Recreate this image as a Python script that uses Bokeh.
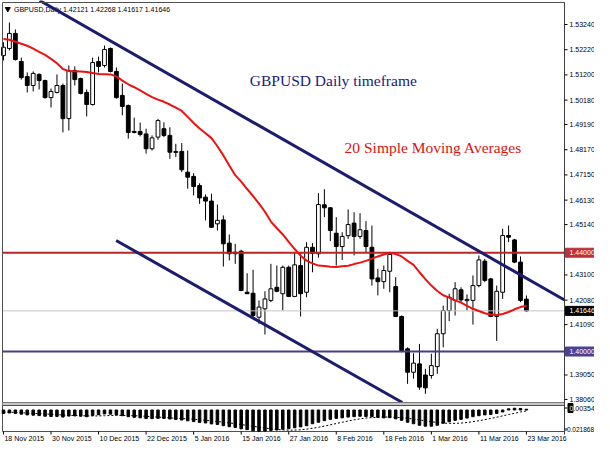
from bokeh.plotting import figure
from bokeh.models import Range1d, ColumnDataSource
from bokeh.core.properties import value
from bokeh.embed import file_html
from bokeh.resources import INLINE

# ---------------- data ----------------
date_labels = ["18 Nov 2015", "30 Nov 2015", "10 Dec 2015", "22 Dec 2015", "5 Jan 2016",
               "15 Jan 2016", "27 Jan 2016", "8 Feb 2016", "18 Feb 2016", "1 Mar 2016",
               "11 Mar 2016", "23 Mar 2016"]
date_ticks = [0, 8, 16, 24, 32, 40, 48, 56, 64, 72, 80, 88]

opens = [1.5198, 1.5227, 1.5288, 1.5174, 1.5113, 1.5077, 1.5122, 1.5097, 1.5028, 1.5049,
         1.5077, 1.4943, 1.5138, 1.5105, 1.5049, 1.5000, 1.5174, 1.5158, 1.5227, 1.5134,
         1.5037, 1.4996, 1.4891, 1.4891, 1.4881, 1.4821, 1.4868, 1.4902, 1.4875, 1.4806,
         1.4810, 1.4726, 1.4709, 1.4672, 1.4625, 1.4609, 1.4517, 1.4533, 1.4439, 1.4396,
         1.4406, 1.4240, 1.4236, 1.4139, 1.4173, 1.4207, 1.4260, 1.4234, 1.4341, 1.4223,
         1.4348, 1.4240, 1.4422, 1.4396, 1.4594, 1.4582, 1.4479, 1.4425, 1.4469, 1.4520,
         1.4466, 1.4490, 1.4422, 1.4298, 1.4283, 1.4325, 1.4263, 1.4142, 1.4011, 1.3916,
         1.3950, 1.3905, 1.3903, 1.3939, 1.4072, 1.4166, 1.4207, 1.4250, 1.4206, 1.4207,
         1.4267, 1.4366, 1.4294, 1.4142, 1.4240, 1.4470, 1.4452, 1.4362, 1.42121]
highs = [1.5252, 1.5332, 1.5304, 1.5190, 1.5130, 1.5134, 1.5126, 1.5101, 1.5065, 1.5122,
         1.5085, 1.5158, 1.5154, 1.5109, 1.5061, 1.5190, 1.5194, 1.5239, 1.5231, 1.5150,
         1.5085, 1.5000, 1.4947, 1.4927, 1.4902, 1.4875, 1.4942, 1.4928, 1.4908, 1.4841,
         1.4844, 1.4814, 1.4722, 1.4681, 1.4636, 1.4639, 1.4595, 1.4551, 1.4474, 1.4436,
         1.4412, 1.4317, 1.4331, 1.4207, 1.4244, 1.4355, 1.4348, 1.4348, 1.4348, 1.4402,
         1.4402, 1.4443, 1.4439, 1.4641, 1.4657, 1.4584, 1.4544, 1.4483, 1.4575, 1.4564,
         1.4560, 1.4528, 1.4510, 1.4335, 1.4348, 1.4402, 1.4301, 1.4146, 1.4017, 1.3993,
         1.4031, 1.3930, 1.3991, 1.4092, 1.4186, 1.4234, 1.4281, 1.4260, 1.4231, 1.4308,
         1.4389, 1.4375, 1.4298, 1.4267, 1.4497, 1.4510, 1.4456, 1.4385, 1.42268]
lows = [1.5178, 1.5219, 1.5178, 1.5101, 1.5049, 1.5053, 1.5061, 1.5024, 1.4988, 1.5045,
        1.4887, 1.4895, 1.5077, 1.5041, 1.4952, 1.4996, 1.5130, 1.5150, 1.5130, 1.5024,
        1.4956, 1.4862, 1.4883, 1.4871, 1.4801, 1.4814, 1.4857, 1.4868, 1.4780, 1.4787,
        1.4726, 1.4659, 1.4632, 1.4598, 1.4531, 1.4501, 1.4490, 1.4344, 1.4369, 1.4355,
        1.4244, 1.4234, 1.4139, 1.4112, 1.4069, 1.4200, 1.4240, 1.4166, 1.4220, 1.4220,
        1.4142, 1.4220, 1.4321, 1.4380, 1.4544, 1.4447, 1.4348, 1.4371, 1.4456, 1.4389,
        1.4456, 1.4402, 1.4267, 1.4227, 1.4254, 1.4240, 1.4139, 1.3997, 1.3869, 1.3890,
        1.3845, 1.3829, 1.3890, 1.3910, 1.4017, 1.4123, 1.4146, 1.4200, 1.4166, 1.4109,
        1.4260, 1.4281, 1.4139, 1.4043, 1.4213, 1.4443, 1.4358, 1.4200, 1.41617]
closes = [1.5232, 1.5288, 1.5182, 1.5109, 1.5077, 1.5126, 1.5097, 1.5028, 1.5053, 1.5077,
          1.4943, 1.5138, 1.5101, 1.5045, 1.5000, 1.5170, 1.5154, 1.5223, 1.5134, 1.5028,
          1.4992, 1.4887, 1.4887, 1.4879, 1.4821, 1.4865, 1.4935, 1.4875, 1.4807, 1.4810,
          1.4736, 1.4706, 1.4668, 1.4622, 1.4609, 1.4503, 1.4531, 1.4436, 1.4396, 1.4402,
          1.4247, 1.4234, 1.4146, 1.4180, 1.4213, 1.4254, 1.4244, 1.4341, 1.4223, 1.4351,
          1.4234, 1.4422, 1.4398, 1.4595, 1.4582, 1.4490, 1.4425, 1.4466, 1.4514, 1.4466,
          1.4493, 1.4425, 1.4294, 1.4283, 1.4328, 1.4393, 1.4142, 1.4004, 1.3916, 1.3953,
          1.3856, 1.3853, 1.3943, 1.4072, 1.4166, 1.4220, 1.4254, 1.4209, 1.4211, 1.4267,
          1.4371, 1.4288, 1.4142, 1.4244, 1.4470, 1.4463, 1.4362, 1.4207, 1.41646]

ma20 = [1.5265, 1.5262, 1.5254, 1.5246, 1.5238, 1.5226, 1.5213, 1.5201, 1.5185, 1.5167,
        1.5144, 1.5135, 1.5135, 1.5134, 1.5132, 1.5128, 1.5124, 1.5123, 1.5122, 1.5114,
        1.5097, 1.5082, 1.5070, 1.5057, 1.5043, 1.5030, 1.5020, 1.5011, 1.5000, 1.4987,
        1.4974, 1.4950, 1.4925, 1.4903, 1.4884, 1.4864, 1.4831, 1.4794, 1.4753, 1.4714,
        1.4688, 1.4658, 1.4629, 1.4599, 1.4566, 1.4526, 1.4499, 1.4474, 1.4444, 1.4415,
        1.4388, 1.4368, 1.4357, 1.4348, 1.4346, 1.4343, 1.4342, 1.4345, 1.4347, 1.4354,
        1.4360, 1.4367, 1.4376, 1.4385, 1.4393, 1.4400, 1.4395, 1.4385, 1.4367, 1.4351,
        1.4321, 1.4293, 1.4267, 1.4245, 1.4228, 1.4218, 1.4207, 1.4198, 1.4185, 1.4173,
        1.4164, 1.4155, 1.4150, 1.4148, 1.4152, 1.4160, 1.4171, 1.4180, 1.4185]

macd_main = [-0.0035, -0.0030, -0.0035, -0.0042, -0.0050, -0.0053, -0.0057, -0.0063, -0.0066, -0.0065,
             -0.0072, -0.0062, -0.0060, -0.0063, -0.0068, -0.0055, -0.0048, -0.0040, -0.0042, -0.0050,
             -0.0058, -0.0068, -0.0075, -0.0080, -0.0087, -0.0088, -0.0085, -0.0086, -0.0092, -0.0096,
             -0.0102, -0.0110, -0.0118, -0.0126, -0.0132, -0.0142, -0.0147, -0.0160, -0.0170, -0.0178,
             -0.0192, -0.0200, -0.0212, -0.0216, -0.0214, -0.0208, -0.0204, -0.0196, -0.0190, -0.0181,
             -0.0172, -0.0160, -0.0140, -0.0125, -0.0108, -0.0095, -0.0085, -0.0080, -0.0072, -0.0068,
             -0.0064, -0.0066, -0.0068, -0.0075, -0.0080, -0.0078, -0.0090, -0.0105, -0.0125, -0.0140,
             -0.0155, -0.0165, -0.0165, -0.0155, -0.0135, -0.0120, -0.0105, -0.0095, -0.0082, -0.0068,
             -0.0058, -0.0050, -0.0045, -0.0035, -0.0020, 0.0012, 0.0018, 0.0016, 0.0008]
macd_signal = [-0.0020, -0.0022, -0.0025, -0.0028, -0.0031, -0.0034, -0.0037, -0.0040, -0.0043, -0.0047,
               -0.0051, -0.0054, -0.0056, -0.0058, -0.0060, -0.0061, -0.0060, -0.0058, -0.0056, -0.0055,
               -0.0055, -0.0056, -0.0058, -0.0061, -0.0064, -0.0068, -0.0072, -0.0076, -0.0080, -0.0083,
               -0.0087, -0.0090, -0.0094, -0.0099, -0.0105, -0.0111, -0.0117, -0.0124, -0.0131, -0.0139,
               -0.0148, -0.0157, -0.0166, -0.0175, -0.0184, -0.0192, -0.0198, -0.0203, -0.0205, -0.0205,
               -0.0201, -0.0195, -0.0186, -0.0176, -0.0164, -0.0151, -0.0138, -0.0125, -0.0112, -0.0100,
               -0.0090, -0.0082, -0.0077, -0.0074, -0.0072, -0.0072, -0.0074, -0.0078, -0.0084, -0.0092,
               -0.0101, -0.0110, -0.0119, -0.0127, -0.0133, -0.0136, -0.0136, -0.0133, -0.0127, -0.0119,
               -0.0109, -0.0098, -0.0086, -0.0073, -0.0060, -0.0046, -0.0033, -0.0020, -0.0009]

price_ticks = [1.5324, 1.5222, 1.5120, 1.5018, 1.4919, 1.4817, 1.4715, 1.4613, 1.4514,
               1.4310, 1.4208, 1.4109, 1.3905, 1.3806]
macd_tick_labels = ["0.00354", "-0.021868"]

# trend lines: two anchor points each (bar index, price)
upper_trend_bars = [6.09, 91.6]
upper_trend_prices = [1.54212, 1.42471]
lower_trend_bars = [18.96, 67.5]
lower_trend_prices = [1.44495, 1.37884]

resistance_level = 1.44000
support_level = 1.40000
bid_price = 1.41646
header = "GBPUSD,Daily  1.42121 1.42268 1.41617 1.41646"

# ---------------- calibration of the window (canvas pixel -> data) ----------------
def bx(c):    # canvas x pixel -> bar index
    return (c - 2.977) / 5.9426

def py(c):    # canvas y pixel -> price (main window)
    return 1.5324 - (c - 24.0) / 2470.0

MACD_PX = 0.0010192   # MACD units per canvas pixel

def my(c):    # canvas y pixel -> MACD value (indicator sub-window)
    return 0.0046 - (c - 405.0) * MACD_PX

PRICE_PX = 1 / 2470.0
W, H = 594, 441
X_L, X_R = bx(2), bx(564)          # chart area left / right
MAIN_TOP, MAIN_BOT = py(2), py(402)
SUB_TOP, SUB_BOT = py(405), py(431)

FONT = value("Liberation Sans")
FS = value("7px")

p = figure(width=W, height=H, x_range=Range1d(bx(0), bx(W)),
           y_range=Range1d(py(H), py(0)), x_axis_location=None, y_axis_location=None,
           toolbar_location=None, output_backend="svg", min_border=0)
p.extra_y_ranges = {"macd": Range1d(my(H), my(0))}
p.outline_line_color = None
for g in p.grid:
    g.visible = False
p.background_fill_color = "white"
p.border_fill_color = "white"

# header (drawn under the trend line, as in MT4)
p.scatter([bx(7.3)], [py(8.5)], marker="inverted_triangle", size=5, color="black")
p.text([bx(13.5)], [py(9)], text=[header], text_font=FONT, text_font_size=FS,
       text_align="left", text_baseline="middle", text_color="black")

# candles
bars = list(range(len(closes)))
src = ColumnDataSource(dict(
    x=bars, o=opens, h=highs, l=lows, c=closes,
    top=[max(o, c) for o, c in zip(opens, closes)],
    bot=[min(o, c) for o, c in zip(opens, closes)],
    fill=["white" if c >= o else "black" for o, c in zip(opens, closes)],
))
p.segment(x0="x", x1="x", y0="l", y1="h", source=src, line_color="black", line_width=1)
p.vbar(x="x", top="top", bottom="bot", width=0.64, source=src,
       fill_color="fill", line_color="black", line_width=1)

# horizontal levels
p.segment(x0=X_L, x1=X_R, y0=[bid_price], y1=[bid_price], line_color="#C4C4C4", line_width=1)
p.segment(x0=X_L, x1=X_R, y0=[resistance_level], y1=[resistance_level],
          line_color="#B8262B", line_width=2)
p.segment(x0=X_L, x1=X_R, y0=[support_level], y1=[support_level],
          line_color="#483D8B", line_width=2)

# moving average
p.line(bars, ma20, line_color="#EE1111", line_width=2)

# trend lines
def extend(bxs, pys, x_to):
    s = (pys[1] - pys[0]) / (bxs[1] - bxs[0])
    return pys[0] + s * (x_to - bxs[0])

ux = [upper_trend_bars[0], X_R]
uy = [upper_trend_prices[0], extend(upper_trend_bars, upper_trend_prices, X_R)]
s_low = (lower_trend_prices[1] - lower_trend_prices[0]) / (lower_trend_bars[1] - lower_trend_bars[0])
x_end = lower_trend_bars[0] + (MAIN_BOT - lower_trend_prices[0]) / s_low
p.line(ux, uy, line_color="#1C1C6E", line_width=3)
p.line([lower_trend_bars[0], x_end], [lower_trend_prices[0], MAIN_BOT],
       line_color="#1C1C6E", line_width=3)

# frames: main window, separator, indicator window
p.quad(left=[X_L], right=[X_R], top=[MAIN_TOP], bottom=[MAIN_BOT],
       fill_alpha=0, line_color="#505050", line_width=1)
p.quad(left=[X_L], right=[X_R], top=[MAIN_BOT], bottom=[SUB_TOP],
       fill_color="#C8C8C8", line_color="#7A7A7A", line_width=1)
p.quad(left=[X_L], right=[X_R], top=[SUB_TOP], bottom=[SUB_BOT],
       fill_alpha=0, line_color="#505050", line_width=1)

# MACD pane
p.vbar(x=bars, top=macd_main, bottom=0, width=0.42, fill_color="black",
       line_color="black", y_range_name="macd")
p.line(bars, macd_signal, line_color="black", line_width=1, line_dash="2 2",
       y_range_name="macd")

# price scale (right)
p.segment(x0=[X_R], x1=[X_R], y0=[MAIN_TOP], y1=[py(434)], line_color="#404040", line_width=1)
p.segment(x0=X_R, x1=bx(567), y0=price_ticks, y1=price_ticks, line_color="black", line_width=1)
p.text(x=[bx(569)] * len(price_ticks), y=price_ticks,
       text=["%.5f" % t for t in price_ticks], text_font=FONT, text_font_size=FS,
       text_align="left", text_baseline="middle", text_color="black")

# level boxes on the price scale
levels = [resistance_level, support_level, bid_price]
level_colors = ["#C0303A", "#4B3F96", "#000000"]
p.quad(left=[bx(565)] * 3, right=[bx(W)] * 3,
       top=[v + 4.5 * PRICE_PX for v in levels], bottom=[v - 4.5 * PRICE_PX for v in levels],
       fill_color=level_colors, line_color=level_colors)
p.text(x=[bx(569)] * 3, y=levels, text=["%.5f" % v for v in levels], text_font=FONT,
       text_font_size=FS, text_align="left", text_baseline="middle", text_color="white")

# MACD scale labels (window maximum at the top, minimum at the bottom)
mac_y = [my(407.5), my(428.5)]
p.segment(x0=X_R, x1=bx(567), y0=mac_y, y1=mac_y, line_color="black", y_range_name="macd")
p.quad(left=[bx(567.5)], right=[bx(572.5)], top=[mac_y[0] + 4.5 * MACD_PX],
       bottom=[mac_y[0] - 4.5 * MACD_PX], fill_color="black", line_color="black",
       y_range_name="macd")
p.text(x=[bx(569)], y=[mac_y[0]], text=[macd_tick_labels[0]], text_font=FONT,
       text_font_size=FS, text_align="left", text_baseline="middle", text_color="black",
       y_range_name="macd")
p.text(x=[bx(569)], y=[mac_y[0]], text=[macd_tick_labels[0][0]], text_font=FONT,
       text_font_size=FS, text_align="left", text_baseline="middle", text_color="white",
       y_range_name="macd")
p.text(x=[bx(593.5)], y=[mac_y[1]], text=[macd_tick_labels[1]], text_font=FONT,
       text_font_size=value("6.5px"), text_align="right", text_baseline="middle",
       text_color="black", y_range_name="macd")

# time scale (bottom)
p.segment(x0=date_ticks, x1=date_ticks, y0=SUB_BOT, y1=py(434), line_color="black", line_width=1)
p.text(x=date_ticks, y=[py(437.5)] * len(date_ticks), x_offset=1, text=date_labels,
       text_font=FONT, text_font_size=FS, text_align="left", text_baseline="middle",
       text_color="black")

# annotations
p.text([41.45], [1.5097], text=["GBPUSD Daily timeframe"], text_font=value("Liberation Serif"),
       text_font_size=value("15.5px"), text_color="#1A1A80", text_baseline="middle", text_align="left")
p.text([57.4], [1.4826], text=["20 Simple Moving Averages"], text_font=value("Liberation Serif"),
       text_font_size=value("15.5px"), text_color="#DD1111", text_baseline="middle", text_align="left")

open("out.html", "w").write(file_html(p, INLINE))
